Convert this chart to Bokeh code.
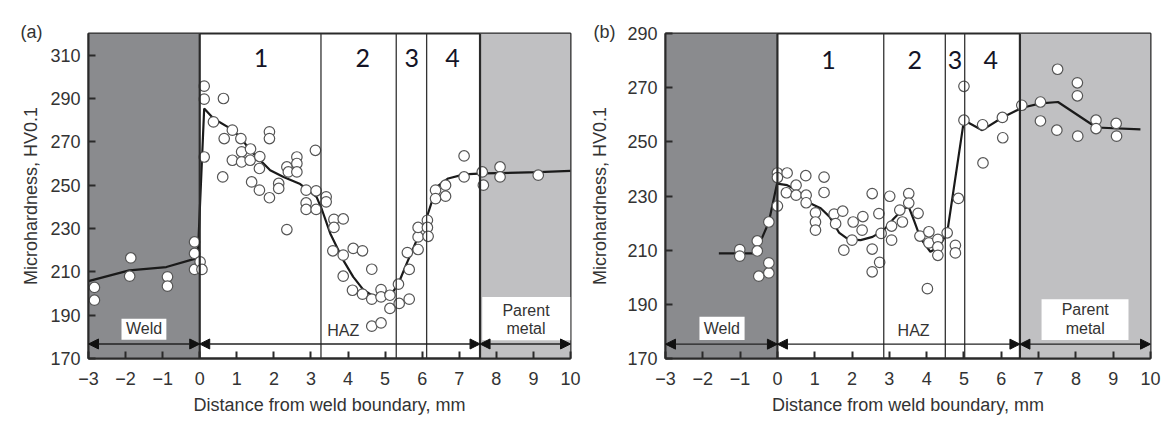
from bokeh.plotting import figure
from bokeh.layouts import row
from bokeh.models import Span, Arrow, NormalHead, FixedTicker, Title
from bokeh.embed import file_html
from bokeh.resources import INLINE
from bokeh.core.properties import value

# ---------------- data: panel (a) ----------------
a_pts_x = [-2.84, -2.84, -1.86, -1.89, -0.87, -0.87, -0.14, -0.14, -0.14, 0.01, 0.06,
           0.12, 0.12, 0.12, 0.37, 0.64, 0.66, 0.62, 0.88, 0.88, 1.11, 1.13, 1.13, 1.37, 1.36,
           1.62, 1.61, 1.40, 1.61, 1.88, 1.88, 1.88, 2.13, 2.13, 2.35, 2.39, 2.62, 2.62, 2.62,
           3.12, 2.87, 3.14, 3.41, 3.41, 2.87, 2.87, 3.14, 2.35,
           3.62, 3.87, 3.62, 3.59, 3.87, 4.14, 4.39, 4.64, 3.87, 4.12, 4.39, 4.64, 4.89, 4.89,
           5.13, 5.13, 4.64, 4.89,
           5.38, 5.65, 5.36, 5.65, 5.60, 5.89, 5.89, 5.89, 6.14, 6.14, 6.16,
           6.36, 6.36, 6.63, 6.63, 7.13, 7.13, 7.62, 7.65,
           8.10, 8.10, 9.13]
a_pts_y = [202.8, 196.9, 216.4, 208.0, 207.7, 203.4, 223.8, 218.5, 211.1, 214.6, 211.1,
           295.7, 289.7, 263.0, 279.2, 290.0, 271.5, 253.8, 275.4, 261.5, 271.5, 265.4, 260.7, 266.7, 261.5,
           263.2, 257.7, 251.5, 247.7, 274.6, 271.5, 244.2, 250.8, 248.5, 258.4, 256.1, 263.0, 260.0, 256.1,
           266.1, 247.7, 247.4, 244.6, 242.3, 241.8, 238.8, 238.8, 229.5,
           234.2, 234.4, 230.5, 219.7, 217.7, 220.8, 219.7, 211.2, 208.0, 201.5, 199.7, 197.4, 201.8, 198.4,
           199.2, 193.1, 184.9, 186.4,
           195.4, 197.4, 204.3, 211.1, 218.9, 220.3, 226.1, 230.5, 233.8, 230.5, 226.4,
           247.7, 243.8, 250.0, 244.9, 263.5, 253.8, 256.1, 250.0,
           258.4, 253.8, 254.6]
a_line_x = [-3.0, -1.9, -0.9, -0.14, -0.05, 0.12, 0.37, 0.82, 1.09, 1.36, 1.72, 1.90, 2.26, 2.71,
            3.15, 3.29, 3.52, 3.87, 4.14, 4.41, 4.64, 4.95, 5.18, 5.36, 5.58, 5.89, 6.14, 6.39,
            6.70, 7.13, 7.65, 9.13, 10.0]
a_line_y = [205.7, 210.7, 212.2, 216.0, 218.0, 285.4, 280.8, 276.2, 272.3, 266.1, 260.0, 256.9, 253.8, 250.5,
            244.6, 239.0, 227.7, 215.4, 207.7, 201.8, 199.2, 198.4, 200.0, 204.6, 213.8, 226.1, 236.0, 249.2,
            253.1, 255.0, 255.4, 256.0, 256.6]
a_zone_bounds = [3.27, 5.30, 6.12]
a_weld_edge = 0.0
a_parent_edge = 7.56
a_yticks = [170, 190, 210, 230, 250, 270, 290, 310]
a_yrange = (170, 320)

# ---------------- data: panel (b) ----------------
b_pts_x = [-1.01, -1.01, -0.54, -0.54, -0.50, -0.23, -0.23, -0.23,
           0.00, 0.00, 0.00, 0.26, 0.24, 0.50, 0.50, 0.76, 0.77, 0.77, 1.02, 1.02, 1.02, 1.25, 1.25,
           1.52, 1.56, 1.75, 1.78, 2.03, 2.00, 2.29, 2.27, 2.54, 2.54, 2.54, 2.72, 2.74, 2.78,
           3.01, 3.06, 3.06, 3.28, 3.35, 3.52, 3.52, 3.77, 3.82, 4.06, 4.06, 4.02, 4.30, 4.30, 4.30,
           4.55, 4.77, 4.77, 4.85, 5.00, 5.00,
           5.50, 5.51, 6.03, 6.04,
           6.55, 7.05, 7.05, 7.51, 7.49, 8.04, 8.04, 8.05, 8.54, 8.54, 9.08, 9.09]
b_pts_y = [210.2, 207.8, 213.4, 209.7, 200.4, 201.6, 205.3, 220.4,
           226.3, 238.5, 236.8, 238.5, 231.2, 234.0, 230.3, 237.5, 230.3, 227.5, 223.8, 220.4, 217.4, 237.0, 231.3,
           223.3, 219.8, 224.4, 210.0, 220.4, 213.7, 222.4, 217.4, 230.9, 210.4, 202.0, 223.5, 205.5, 216.2,
           229.9, 218.9, 213.7, 224.8, 220.4, 230.9, 227.4, 223.6, 215.2, 216.8, 212.7, 195.8, 214.0, 211.2, 208.1,
           216.4, 211.8, 209.0, 229.1, 270.5, 258.0,
           256.3, 242.2, 259.0, 251.5,
           263.5, 264.7, 257.7, 276.8, 254.3, 271.8, 267.0, 252.1, 258.0, 254.9, 256.8, 252.1]
b_line_x = [-1.57, -0.59, -0.23, -0.01, 0.26, 0.53, 0.75, 0.89, 1.16, 1.40, 1.65, 1.90, 2.23, 2.55,
            2.85, 3.12, 3.39, 3.52, 3.66, 3.84, 4.10, 4.33, 4.55, 5.00, 5.49, 6.03, 6.56, 7.05,
            7.52, 8.55, 9.73]
b_line_y = [208.8, 208.8, 220.4, 234.6, 234.0, 232.1, 228.0, 227.2, 225.5, 222.3, 216.5, 214.0, 213.7, 214.9,
            217.4, 221.7, 225.4, 226.0, 221.0, 214.3, 209.4, 211.2, 216.4, 258.0, 254.3, 259.0, 262.6, 264.2,
            264.7, 255.3, 254.6]
b_zone_bounds = [2.85, 4.50, 5.02]
b_weld_edge = 0.0
b_parent_edge = 6.50
b_yticks = [170, 190, 210, 230, 250, 270, 290]
b_yrange = (170, 290)

x_ticks = list(range(-3, 11))
x_range = (-3, 10)
zone_labels = ["1", "2", "3", "4"]

WELD_GRAY = "#8a8b8e"
PARENT_GRAY = "#c0c0c2"
INK = "#2a2a2a"
FONT = "Liberation Sans"


def make_panel(tag, pts_x, pts_y, line_x, line_y, bounds, weld_edge, parent_edge,
               yticks, yrange, geo):
    p = figure(frame_width=geo["fw"], frame_height=325, x_range=x_range, y_range=yrange,
               output_backend="svg", toolbar_location=None,
               min_border_left=geo["bl"], min_border_right=geo["br"], min_border_top=33,
               min_border_bottom=60)
    p.xgrid.visible = False
    p.ygrid.visible = False
    p.background_fill_color = "white"
    p.outline_line_color = INK
    p.outline_line_width = 2

    y0, y1 = yrange
    # shaded regions
    p.quad(left=[x_range[0]], right=[weld_edge], bottom=[y0], top=[y1],
           fill_color=WELD_GRAY, line_color=None)
    p.quad(left=[parent_edge], right=[x_range[1]], bottom=[y0], top=[y1],
           fill_color=PARENT_GRAY, line_color=None)

    # label boxes
    p.quad(left=[geo["weld_box"][0]], right=[geo["weld_box"][1]],
           bottom=[geo["weld_box"][2]], top=[geo["weld_box"][3]],
           fill_color="white", line_color=None)
    p.quad(left=[geo["par_box"][0]], right=[geo["par_box"][1]],
           bottom=[geo["par_box"][2]], top=[geo["par_box"][3]],
           fill_color="white", line_color=None)

    # zone boundary lines
    for b in bounds:
        p.add_layout(Span(location=b, dimension="height", line_color="#333333", line_width=1.3))
    for b in (weld_edge, parent_edge):
        p.add_layout(Span(location=b, dimension="height", line_color=INK, line_width=2.2))

    # region arrows
    ya = geo["arrow_y"]
    for xs, xe in ((x_range[0], weld_edge), (weld_edge, parent_edge), (parent_edge, x_range[1])):
        p.add_layout(Arrow(start=NormalHead(size=10, fill_color="#111", line_color="#111", line_width=1),
                           end=NormalHead(size=10, fill_color="#111", line_color="#111", line_width=1),
                           x_start=xs, y_start=ya, x_end=xe, y_end=ya,
                           line_color="#222", line_width=1.3))

    # region texts
    p.text(x=geo["txt_x"], y=geo["txt_y"], text=["Weld", "HAZ", "Parent", "metal"],
           text_font=value(FONT), text_font_size="16px", text_color="#333333",
           text_align="center", text_baseline="middle")

    # zone numbers
    p.text(x=geo["zone_x"], y=[geo["zone_y"]] * 4, text=zone_labels,
           text_font=value("Lato"), text_font_size="25px", text_color="#141426",
           text_align="center", text_baseline="middle")

    # curve and points
    p.line(line_x, line_y, line_color="#1a1a1a", line_width=2.2)
    p.scatter(pts_x, pts_y, marker="circle", size=10.5, fill_color="white",
              line_color="#555555", line_width=1.2)

    # axes
    p.xaxis.ticker = FixedTicker(ticks=x_ticks)
    p.yaxis.ticker = FixedTicker(ticks=yticks)
    p.xaxis.major_label_overrides = {t: ("\u2212" + str(-t) if t < 0 else str(t)) for t in x_ticks}
    for ax in (p.xaxis[0], p.yaxis[0]):
        ax.axis_line_color = INK
        ax.axis_line_width = 2
        ax.major_tick_in = 7
        ax.major_tick_out = 0
        ax.major_tick_line_color = INK
        ax.major_tick_line_width = 2
        ax.minor_tick_line_color = None
        ax.major_label_text_font = FONT
        ax.major_label_text_font_size = "18px"
        ax.major_label_text_color = "#333333"
        ax.axis_label_text_font = FONT
        ax.axis_label_text_font_size = "18px"
        ax.axis_label_text_font_style = "normal"
        ax.axis_label_text_color = "#333333"
    p.xaxis.axis_label = "Distance from weld boundary, mm"
    p.yaxis.axis_label = "Microhardness, HV0.1"
    p.xaxis.major_label_standoff = 13
    p.xaxis.axis_label_standoff = 7
    p.yaxis.major_label_standoff = 8
    p.yaxis.axis_label_standoff = geo["ylab_sd"]

    p.add_layout(Title(text=tag, align="left", offset=geo["tag_off"], standoff=-17,
                       text_font=FONT, text_font_size="18px", text_color="#333333",
                       text_font_style="normal"), "above")
    return p


geo_a = dict(fw=482, bl=88, br=15, weld_box=(-2.11, -0.90, 178.6, 188.3), par_box=(7.62, 10.0, 178.4, 198.4),
             arrow_y=176.7, txt_x=[-1.50, 3.87, 8.80, 8.80], txt_y=[183.7, 183.0, 192.3, 183.8],
             zone_x=[1.65, 4.40, 5.72, 6.82], zone_y=308.6, ylab_sd=6, tag_off=-68)
geo_b = dict(fw=485, bl=80, br=13, weld_box=(-2.09, -0.88, 176.8, 185.4), par_box=(7.08, 9.41, 176.8, 191.9),
             arrow_y=175.3, txt_x=[-1.49, 3.65, 8.25, 8.25], txt_y=[181.2, 180.5, 188.1, 181.1],
             zone_x=[1.37, 3.68, 4.76, 5.72], zone_y=280.1, ylab_sd=14, tag_off=-72)

pa = make_panel("(a)", a_pts_x, a_pts_y, a_line_x, a_line_y, a_zone_bounds, a_weld_edge,
                a_parent_edge, a_yticks, a_yrange, geo_a)
pb = make_panel("(b)", b_pts_x, b_pts_y, b_line_x, b_line_y, b_zone_bounds, b_weld_edge,
                b_parent_edge, b_yticks, b_yrange, geo_b)

layout = row(pa, pb)
open("out.html", "w").write(file_html(layout, INLINE))
